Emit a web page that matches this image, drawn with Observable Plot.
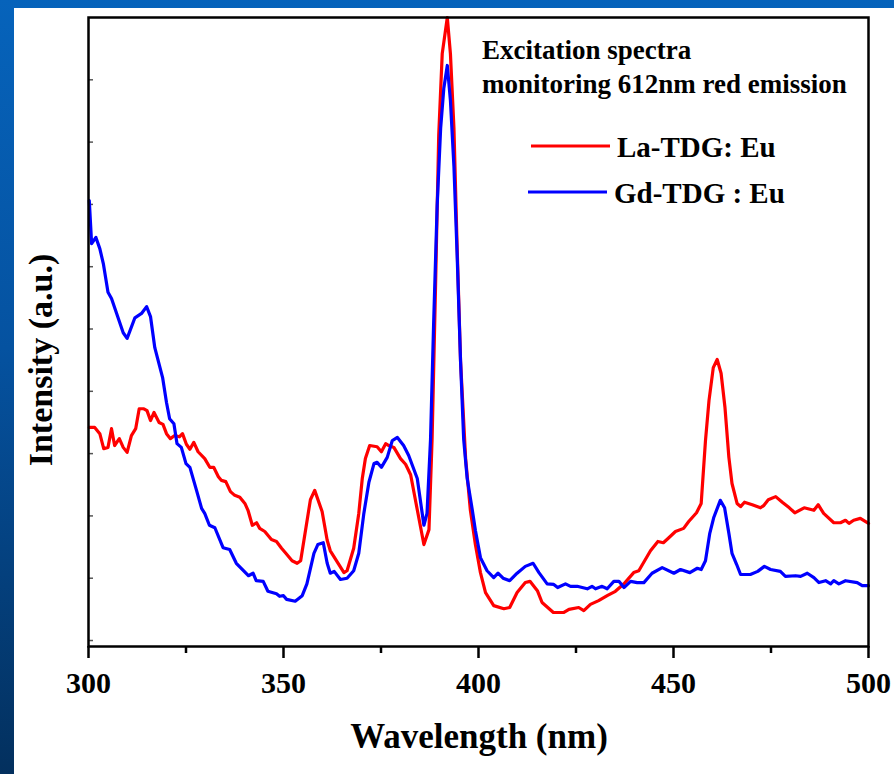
<!DOCTYPE html>
<html><head><meta charset="utf-8">
<script src="https://cdn.jsdelivr.net/npm/d3@7"></script>
<script src="https://cdn.jsdelivr.net/npm/@observablehq/plot@0.6"></script>
<style>
html,body{margin:0;padding:0;width:894px;height:774px;overflow:hidden;background:linear-gradient(to bottom,#0663bb 0%,#0552a0 45%,#03305e 100%);}
#panel{position:absolute;left:14px;top:8px;width:880px;height:766px;background:#fff;}
#panel svg text{font-family:"Liberation Serif","Times New Roman",serif !important;font-weight:bold !important;}
</style></head>
<body><div id="panel"></div>
<script>
// La-TDG : Eu (red)
const laWavelength = [300.2,301.6,302.9,303.9,305.0,305.9,306.7,307.9,308.9,309.9,311.0,312.1,313.0,314.2,315.0,315.9,316.8,318.1,319.1,320.0,321.0,322.1,323.3,324.1,325.1,326.0,327.0,328.1,329.8,331.1,332.1,333.3,334.1,335.2,336.4,337.5,338.8,340.1,340.9,342.0,343.1,343.9,345.2,346.9,348.2,349.5,350.6,352.2,353.5,354.4,356.9,358.0,359.9,361.2,362.0,365.5,366.3,368.0,369.3,370.2,371.0,372.1,374.0,375.1,376.2,377.0,378.3,380.0,381.3,382.6,384.3,386.0,387.3,388.1,389.0,389.8,390.7,392.0,392.8,393.7,394.5,395.4,396.7,397.9,399.2,400.5,401.8,403.9,406.5,408.0,409.9,412.0,413.2,415.1,416.3,419.2,421.9,423.2,425.7,427.0,428.7,430.8,433.0,435.1,437.3,439.8,441.1,444.1,446.0,447.4,448.8,450.5,452.6,453.9,455.9,457.1,458.2,459.1,460.2,461.2,462.2,463.2,464.2,465.0,466.3,467.2,468.2,470.2,472.3,473.2,474.3,476.2,477.9,479.7,481.1,483.5,486.0,487.1,488.5,491.1,492.8,494.1,495.0,496.2,497.9,500.0];
const laIntensity = [34.2,34.2,33.2,30.8,31.0,34.0,31.3,32.4,31.0,30.2,32.9,34.0,37.2,37.2,36.9,35.3,36.6,35.0,34.7,33.2,32.4,32.9,32.7,33.2,31.5,30.7,31.8,30.3,29.2,27.8,27.8,26.3,25.7,25.5,23.9,23.3,23.0,22.0,20.9,18.5,18.9,18.0,17.5,16.2,15.9,14.8,14.0,12.8,12.4,12.8,22.6,24.1,20.7,16.1,14.4,10.9,11.2,14.8,20.4,26.0,29.2,31.3,31.1,30.3,31.6,31.3,31.0,29.2,28.3,26.6,21.0,15.4,17.8,32.3,57.3,81.1,94.2,100,94.2,82.3,63.6,44.8,29.2,21.0,15.4,10.9,7.7,5.6,5.1,5.3,7.7,9.3,9.5,8.0,6.1,4.5,4.5,5.0,5.3,4.8,5.8,6.4,7.2,7.9,9.1,10.9,11.2,14.4,15.9,15.7,16.5,17.5,18.0,19.1,20.5,22.0,32.1,38.5,43.8,45.1,42.9,37.4,29.4,25.2,22.0,21.5,22.2,21.8,21.3,21.7,22.6,23.1,22.2,21.3,20.5,21.3,20.9,21.8,20.4,18.9,18.9,19.3,18.8,19.3,19.6,18.8];

// Gd-TDG : Eu (blue)
const gdWavelength = [300.2,300.8,301.9,302.9,303.8,305.0,305.9,308.9,309.9,311.9,313.6,314.9,315.9,317.0,319.0,320.0,320.8,321.9,322.7,323.8,325.0,326.0,327.7,329.0,329.8,331.0,332.4,334.5,336.2,337.9,341.0,342.2,343.0,344.8,346.0,348.2,349.0,350.0,350.8,353.0,354.8,356.0,357.8,358.8,360.2,361.2,362.0,363.0,364.6,366.3,368.0,369.3,370.6,371.9,373.2,374.0,375.1,376.6,377.9,379.2,380.8,382.1,384.3,386.0,386.8,387.7,388.5,389.4,390.3,391.1,392.0,392.8,393.7,394.5,395.4,396.2,397.1,398.4,399.2,400.5,402.2,403.9,405.0,406.3,408.0,409.9,412.0,414.0,415.5,417.6,419.3,420.3,422.3,423.6,425.3,427.9,429.1,430.0,431.7,433.0,434.7,436.0,437.3,439.0,440.7,442.4,444.5,447.1,450.1,451.8,454.2,456.1,457.1,458.2,459.3,460.3,462.0,463.1,464.2,465.0,466.2,467.2,469.7,471.6,473.3,474.9,477.4,478.7,481.3,482.6,484.3,486.0,487.3,489.0,490.3,491.1,492.4,494.1,497.1,498.4,500.0];
const gdIntensity = [70.6,63.7,64.7,62.9,60.5,55.9,54.9,49.4,48.5,51.8,52.5,53.6,52.0,47.0,42.2,38.2,35.6,34.8,31.6,31.0,28.4,27.8,24.1,21.2,20.4,18.5,18.1,14.9,14.6,12.4,10.4,10.8,9.6,9.5,7.9,7.5,7.1,7.2,6.6,6.3,7.2,9.1,14.0,15.4,15.7,12.4,10.8,11.1,9.8,10.0,11.2,14.0,20.4,25.4,28.4,28.6,27.8,29.4,32.1,32.6,31.3,29.7,26.0,18.5,20.4,32.3,51.0,69.8,82.3,88.6,92.3,86.7,76.1,62.3,44.8,32.3,26.0,21.0,17.7,13.3,11.2,10.1,10.8,10.0,9.6,10.8,11.9,12.4,10.9,9.1,9.0,8.5,9.1,8.7,8.7,8.3,8.7,8.3,8.7,8.3,9.5,9.5,8.5,9.5,9.3,9.3,10.8,11.7,10.8,11.4,10.9,11.6,11.4,12.8,17.2,19.7,22.5,21.3,17.2,14.0,12.2,10.6,10.6,11.1,11.9,11.4,11.1,10.3,10.4,10.3,10.8,10.1,9.3,9.6,9.1,9.6,9.1,9.6,9.3,8.8,8.8];

const seriesNames = ["La-TDG: Eu", "Gd-TDG : Eu"];
const seriesColors = ["#ff0000", "#0000ff"];
const xMajorTicks = [300, 350, 400, 450, 500];
const xMinorTicks = [325, 375, 425, 475];
const yTicks = [0, 10, 20, 30, 40, 50, 60, 70, 80, 90];
const xLabel = "Wavelength (nm)";
const yLabel = "Intensity (a.u.)";
const noteLines = ["Excitation spectra", "monitoring 612nm red emission"];

const serif = "Liberation Serif, Times New Roman, serif";

const data = [
  ...laWavelength.map((w, i) => ({w, v: laIntensity[i], s: seriesNames[0]})),
  ...gdWavelength.map((w, i) => ({w, v: gdIntensity[i], s: seriesNames[1]}))
];

const chart = Plot.plot({
  width: 880, height: 766,
  marginLeft: 74, marginTop: 9, marginRight: 26, marginBottom: 128,
  x: {domain: [300, 500]},
  y: {domain: [-0.96, 100]},
  color: {domain: seriesNames, range: seriesColors},
  style: {fontFamily: serif, fontWeight: "bold", background: "white", color: "black"},
  marks: [
    Plot.axisX({ticks: xMajorTicks, tickSize: 12, tickPadding: 13, fontSize: 30, fontWeight: "bold", fontFamily: serif, strokeWidth: 2.5, label: null}),
    Plot.axisX({ticks: xMinorTicks, tickSize: 7, tickFormat: () => "", strokeWidth: 2.5, label: null}),
    Plot.axisY({ticks: yTicks, tickSize: -5, tickFormat: () => "", strokeWidth: 1.5, stroke: "#555", label: null}),
    Plot.line(data, {x: "w", y: "v", z: "s", stroke: "s", strokeWidth: 3.2, curve: "linear"}),
    Plot.frame({stroke: "black", strokeWidth: 2.5})
  ]
});

const svg = d3.select(chart);
function addText(x, y, size, txt, anchor, transform) {
  const t = svg.append("text")
    .attr("text-anchor", anchor)
    .style("font-size", size + "px")
    .text(txt);
  if (transform) t.attr("transform", transform); else t.attr("x", x).attr("y", y);
  return t;
}
addText(465, 740, 35, xLabel, "middle");
addText(0, 0, 34, yLabel, "middle", "translate(38,352) rotate(-90)");
noteLines.forEach((t, i) => addText(468, 51 + i * 34, 27, t, "start"));
const legendY = [138, 184];
const legendX = [517, 514];
seriesNames.forEach((name, i) => {
  svg.append("line").attr("x1", legendX[i]).attr("x2", legendX[i] + 79)
    .attr("y1", legendY[i]).attr("y2", legendY[i])
    .attr("stroke", seriesColors[i]).attr("stroke-width", 3);
  addText(legendX[i] + 86, legendY[i] + 11, 29, name, "start");
});
svg.selectAll("text").style("font-family", serif).style("font-weight", "bold");

document.getElementById("panel").appendChild(chart);
</script>
</body></html>
